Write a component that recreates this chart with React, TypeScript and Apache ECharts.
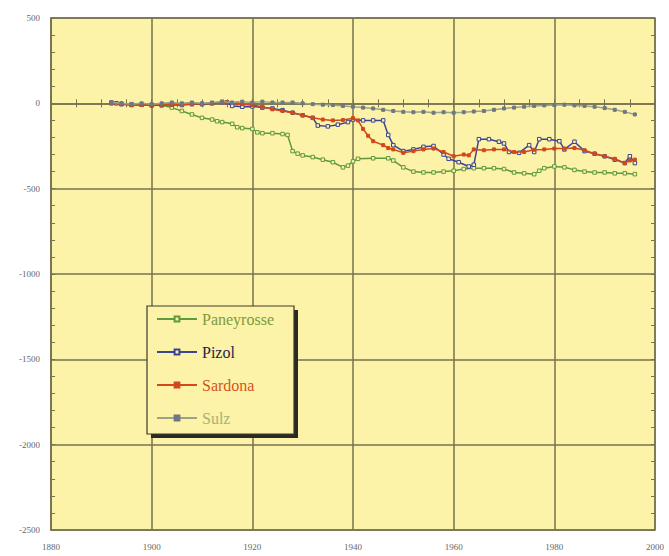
import React, { useEffect, useRef } from "react";
import * as echarts from "echarts";

const seriesNames = ["Paneyrosse", "Pizol", "Sardona", "Sulz"];
const yTicks = [500, 0, -500, -1000, -1500, -2000, -2500];
const xTicks = [1880, 1900, 1920, 1940, 1960, 1980, 2000];

const paneyrosse: [number, number][] = [
  [1892, 0], [1894, -2], [1896, -5], [1898, -8], [1900, -10], [1902, -12], [1904, -25],
  [1906, -45], [1908, -65], [1910, -85], [1912, -95], [1913, -105], [1914, -110], [1916, -120],
  [1917, -140], [1918, -145], [1920, -150], [1921, -170], [1922, -175], [1924, -175], [1926, -180],
  [1927, -185], [1928, -280], [1929, -295], [1930, -305], [1932, -315], [1934, -330], [1936, -345],
  [1938, -375], [1939, -365], [1940, -340], [1941, -325], [1944, -322], [1947, -322], [1948, -335],
  [1950, -375], [1952, -400], [1954, -405], [1956, -405], [1958, -400], [1960, -395], [1962, -385],
  [1964, -380], [1966, -380], [1968, -380], [1970, -385], [1972, -405], [1974, -410], [1976, -415],
  [1977, -395], [1978, -380], [1980, -370], [1982, -375], [1984, -390], [1986, -400], [1988, -405],
  [1990, -405], [1992, -410], [1994, -410], [1996, -415],
];

const pizol: [number, number][] = [
  [1892, 5], [1893, 0], [1894, -5], [1896, -10], [1898, -8], [1900, -12], [1902, -10], [1904, -8],
  [1906, -10], [1908, -5], [1910, -5], [1912, 0], [1914, 8], [1915, 5], [1916, -15], [1918, -20],
  [1920, -18], [1922, -25], [1924, -30], [1926, -40], [1928, -55], [1930, -70], [1932, -85],
  [1933, -130], [1935, -135], [1937, -125], [1939, -110], [1940, -95], [1942, -100], [1944, -100],
  [1946, -100], [1947, -185], [1948, -245], [1950, -280], [1952, -270], [1954, -255], [1956, -250],
  [1958, -300], [1959, -325], [1961, -345], [1963, -370], [1964, -360], [1965, -210], [1967, -210],
  [1969, -225], [1970, -235], [1971, -285], [1973, -290], [1975, -245], [1976, -285], [1977, -210],
  [1979, -210], [1981, -222], [1982, -270], [1984, -225], [1986, -280], [1988, -295], [1990, -310],
  [1992, -330], [1994, -350], [1995, -310], [1996, -350],
];

const sardona: [number, number][] = [
  [1892, 0], [1894, -5], [1896, -8], [1898, -10], [1900, -10], [1902, -8], [1904, -8], [1906, -5],
  [1908, -5], [1910, -2], [1912, 0], [1914, 8], [1915, 5], [1917, 0], [1918, -5], [1920, -10],
  [1922, -20], [1924, -35], [1926, -45], [1928, -55], [1930, -70], [1932, -85], [1934, -95],
  [1936, -100], [1938, -98], [1940, -87], [1941, -100], [1942, -150], [1943, -190], [1944, -222],
  [1946, -245], [1947, -262], [1948, -270], [1950, -290], [1952, -280], [1954, -270], [1956, -265],
  [1958, -285], [1960, -310], [1962, -300], [1963, -305], [1964, -270], [1966, -275], [1968, -270],
  [1970, -270], [1972, -285], [1974, -285], [1976, -272], [1978, -270], [1980, -265], [1982, -265],
  [1984, -262], [1986, -275], [1988, -295], [1990, -310], [1992, -325], [1994, -350], [1995, -335],
  [1996, -330],
];

const sulz: [number, number][] = [
  [1892, 5], [1894, 0], [1896, -5], [1898, 0], [1900, -5], [1902, 0], [1904, 5], [1906, 0],
  [1908, 5], [1910, 0], [1912, 5], [1914, 10], [1916, 5], [1918, 10], [1920, 5], [1922, 10],
  [1924, 5], [1926, 5], [1928, 5], [1930, 0], [1932, -5], [1934, -8], [1936, -10], [1938, -15],
  [1940, -20], [1942, -25], [1944, -30], [1946, -38], [1948, -45], [1950, -50], [1952, -52],
  [1954, -50], [1956, -55], [1958, -52], [1960, -55], [1962, -52], [1964, -48], [1966, -45],
  [1968, -38], [1970, -30], [1972, -25], [1974, -20], [1976, -15], [1978, -12], [1980, -10],
  [1982, -8], [1984, -12], [1986, -15], [1988, -20], [1990, -28], [1992, -38], [1994, -50],
  [1996, -65],
];

const lineColors = ["#5f9a3e", "#3a4596", "#d2481a", "#9aa586"];
const legendTextColors = ["#7a9c3c", "#1c1f4e", "#d4551c", "#a9b07a"];

const FONT = "'Liberation Serif', 'DejaVu Serif', serif";
const BG = "#fcf2a8";
const GRIDC = "#77734f";

export default function App() {
  const ref = useRef<HTMLDivElement>(null);
  useEffect(() => {
    document.body.style.margin = "0";
    const chart = echarts.init(ref.current!, null, { renderer: "svg" });
    const datasets = [paneyrosse, pizol, sardona, sulz];
    const fills = [BG, BG, lineColors[2], "#6f7784"];
    const sizes = [3.5, 3.5, 3, 3];
    const series = seriesNames.map((name, i) => ({
      name,
      type: "line",
      data: datasets[i],
      xAxisIndex: 0,
      yAxisIndex: 0,
      symbol: "rect",
      symbolSize: sizes[i],
      showSymbol: true,
      z: 3 + i,
      lineStyle: { color: lineColors[i], width: 1.5 },
      itemStyle: { color: fills[i], borderColor: i === 3 ? "#6f7784" : lineColors[i], borderWidth: 1 },
    }));
    const baseX = { type: "value", min: xTicks[0], max: xTicks[xTicks.length - 1] };
    const baseY = { type: "value", min: yTicks[yTicks.length - 1], max: yTicks[0] };
    const tickOnly = (interval: number, position: string) => ({
      interval,
      position,
      axisLine: { show: false },
      axisLabel: { show: false },
      splitLine: { show: false },
      axisTick: { show: true, inside: true, length: 4, lineStyle: { color: GRIDC, width: 1 } },
    });
    chart.setOption({
      animation: false,
      backgroundColor: "#ffffff",
      grid: {
        left: 51, right: 14, top: 18, bottom: 26,
        show: true, backgroundColor: BG, borderColor: GRIDC, borderWidth: 1.5,
      },
      xAxis: [
        {
          ...baseX,
          interval: 20,
          position: "bottom",
          axisLine: { show: true, lineStyle: { color: GRIDC, width: 1.5 } },
          axisTick: { show: false },
          axisLabel: { color: "#666", fontSize: 9, fontFamily: FONT, margin: 12, formatter: (v: number) => String(v) },
          splitLine: { show: true, lineStyle: { color: GRIDC, width: 1.5 } },
        },
        { ...baseX, ...tickOnly(5, "bottom") },
        { ...baseX, ...tickOnly(5, "top") },
      ],
      yAxis: [
        {
          ...baseY,
          interval: 500,
          position: "left",
          axisLine: { show: true, lineStyle: { color: GRIDC, width: 1.5 } },
          axisTick: { show: false },
          axisLabel: { color: "#666", fontSize: 9, fontFamily: FONT, margin: 11, formatter: (v: number) => String(v) },
          splitLine: { show: true, lineStyle: { color: GRIDC, width: 1.5 } },
        },
        { ...baseY, ...tickOnly(100, "left") },
        { ...baseY, ...tickOnly(100, "right") },
      ],
      graphic: [
        { type: "rect", z: 20, shape: { x: 151, y: 310, width: 147, height: 128 }, style: { fill: "#2a2a22" } },
        { type: "rect", z: 21, shape: { x: 147, y: 306, width: 147, height: 128 }, style: { fill: BG, stroke: "#3a3a30", lineWidth: 1.2 } },
      ],
      legend: {
        z: 30,
        orient: "vertical",
        left: 156,
        top: 311,
        padding: 0,
        itemWidth: 40,
        itemHeight: 6,
        itemGap: 17,
        data: seriesNames.map((n, i) => ({
          name: n,
          textStyle: { color: legendTextColors[i], fontSize: 16, fontFamily: FONT, lineHeight: 16 },
        })),
      },
      series,
    });
    return () => chart.dispose();
  }, []);
  return <div ref={ref} style={{ width: 669, height: 556 }} />;
}
